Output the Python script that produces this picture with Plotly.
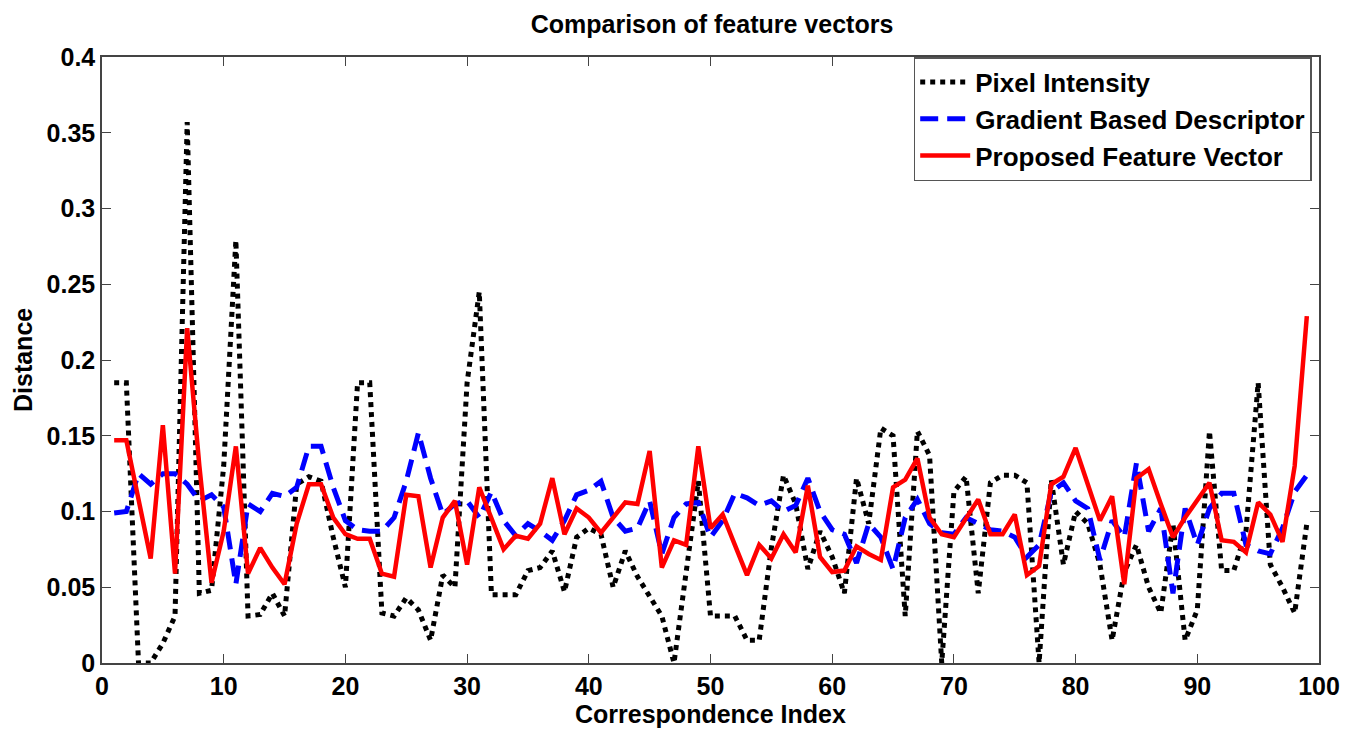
import plotly.graph_objects as go

index = list(range(1, 100))

pixel_intensity = [
    0.185, 0.185, 0.0, 0.0, 0.013, 0.031, 0.357, 0.046, 0.048, 0.13,
    0.279, 0.031, 0.032, 0.046, 0.031, 0.118, 0.123, 0.12, 0.083, 0.05,
    0.185, 0.185, 0.033, 0.031, 0.043, 0.035, 0.015, 0.058, 0.05, 0.185,
    0.245, 0.045, 0.045, 0.045, 0.061, 0.063, 0.074, 0.047, 0.083, 0.089,
    0.085, 0.05, 0.074, 0.057, 0.044, 0.031, 0.0, 0.059, 0.12, 0.031,
    0.031, 0.031, 0.015, 0.015, 0.076, 0.124, 0.105, 0.062, 0.087, 0.07,
    0.046, 0.122, 0.092, 0.155, 0.15, 0.031, 0.153, 0.137, 0.0, 0.113,
    0.123, 0.046, 0.119, 0.124, 0.124, 0.119, 0.0, 0.121, 0.065, 0.1,
    0.092, 0.065, 0.015, 0.06, 0.078, 0.05, 0.033, 0.092, 0.015, 0.035,
    0.153, 0.061, 0.061, 0.087, 0.185, 0.065, 0.05, 0.033, 0.092,
]

gradient_based = [
    0.099, 0.1, 0.125, 0.118, 0.125, 0.125, 0.118, 0.107, 0.111, 0.103,
    0.052, 0.105, 0.1, 0.112, 0.11, 0.116, 0.143, 0.143, 0.116, 0.094,
    0.088, 0.087, 0.087, 0.096, 0.12, 0.152, 0.122, 0.098, 0.105, 0.107,
    0.096, 0.113, 0.094, 0.084, 0.092, 0.087, 0.081, 0.094, 0.111, 0.114,
    0.12, 0.096, 0.087, 0.089, 0.107, 0.072, 0.096, 0.105, 0.106, 0.083,
    0.094, 0.112, 0.109, 0.104, 0.107, 0.1, 0.104, 0.122, 0.1, 0.088,
    0.085, 0.066, 0.092, 0.083, 0.062, 0.096, 0.108, 0.092, 0.086, 0.085,
    0.096, 0.092, 0.088, 0.087, 0.083, 0.07, 0.078, 0.113, 0.119, 0.107,
    0.102, 0.068, 0.094, 0.083, 0.132, 0.087, 0.102, 0.046, 0.102, 0.078,
    0.102, 0.112, 0.112, 0.078, 0.074, 0.072, 0.089, 0.113, 0.124,
]

proposed = [
    0.147, 0.147, 0.108, 0.069, 0.157, 0.059, 0.221, 0.13, 0.053, 0.087,
    0.143, 0.059, 0.076, 0.063, 0.052, 0.092, 0.118, 0.118, 0.096, 0.085,
    0.082, 0.082, 0.059, 0.057, 0.111, 0.11, 0.063, 0.096, 0.107, 0.065,
    0.116, 0.096, 0.075, 0.084, 0.082, 0.092, 0.122, 0.085, 0.102, 0.096,
    0.086, 0.096, 0.106, 0.105, 0.14, 0.063, 0.081, 0.078, 0.143, 0.089,
    0.098, 0.078, 0.058, 0.078, 0.069, 0.085, 0.073, 0.117, 0.07, 0.06,
    0.061, 0.077, 0.072, 0.068, 0.116, 0.121, 0.135, 0.096, 0.085, 0.083,
    0.095, 0.108, 0.085, 0.085, 0.098, 0.058, 0.064, 0.118, 0.123, 0.142,
    0.118, 0.094, 0.11, 0.052, 0.122, 0.128, 0.105, 0.083, 0.096, 0.107,
    0.119, 0.081, 0.08, 0.073, 0.106, 0.098, 0.08, 0.13, 0.229,
]

x_ticks = [0, 10, 20, 30, 40, 50, 60, 70, 80, 90, 100]
y_ticks = [0, 0.05, 0.1, 0.15, 0.2, 0.25, 0.3, 0.35, 0.4]
y_tick_labels = ["0", "0.05", "0.1", "0.15", "0.2", "0.25", "0.3", "0.35", "0.4"]

FONT = "Liberation Sans, Arial, sans-serif"
FS = 25

fig = go.Figure()
fig.add_trace(go.Scatter(x=index, y=pixel_intensity, mode="lines", name="Pixel Intensity",
                         line=dict(color="black", width=5, dash="dot")))
fig.add_trace(go.Scatter(x=index, y=gradient_based, mode="lines", name="Gradient Based Descriptor",
                         line=dict(color="#0000ff", width=5, dash="18px,9px")))
fig.add_trace(go.Scatter(x=index, y=proposed, mode="lines", name="Proposed Feature Vector",
                         line=dict(color="#ff0000", width=4.5)))

fig.update_layout(
    width=1360, height=733,
    margin=dict(l=94, r=49, t=49, b=78),
    paper_bgcolor="white", plot_bgcolor="white",
    font=dict(family=FONT, color="black", size=FS, weight="bold"),
    title=dict(text="Comparison of feature vectors", x=704 / 1360, xanchor="center",
               y=1 - 16 / 733, yanchor="middle", xref="container", yref="container",
               font=dict(family=FONT, size=FS, weight="bold", color="black")),
    legend=dict(x=0.994, y=1.0, xanchor="right", yanchor="top",
                bgcolor="white", bordercolor="#555", borderwidth=1.5,
                font=dict(family=FONT, size=26, weight="bold", color="black"),
                itemwidth=50, tracegroupgap=0),
    showlegend=True,
    annotations=[
        dict(text="Correspondence Index", xref="paper", yref="paper", x=0.5, y=-0.0842,
             xanchor="center", yanchor="middle", showarrow=False,
             font=dict(family=FONT, size=FS, weight="bold", color="black")),
        dict(text="Distance", xref="paper", yref="paper", x=-0.0649, y=0.5,
             xanchor="center", yanchor="middle", textangle=-90, showarrow=False,
             font=dict(family=FONT, size=FS, weight="bold", color="black")),
    ],
)
fig.update_xaxes(
    range=[0, 100], tickvals=x_ticks, ticks="inside", ticklen=9, tickcolor="#444",
    showline=True, linecolor="#444", linewidth=1.5, mirror="ticks", showgrid=False, zeroline=False,
    tickfont=dict(family=FONT, size=FS, weight="bold"), automargin=False,
)
fig.update_yaxes(
    range=[0, 0.4], tickvals=y_ticks, ticktext=y_tick_labels, ticks="inside", ticklen=9, tickcolor="#444",
    showline=True, linecolor="#444", linewidth=1.5, mirror="ticks", showgrid=False, zeroline=False,
    tickfont=dict(family=FONT, size=FS, weight="bold"), automargin=False,
)

fig.write_html("out.html")
